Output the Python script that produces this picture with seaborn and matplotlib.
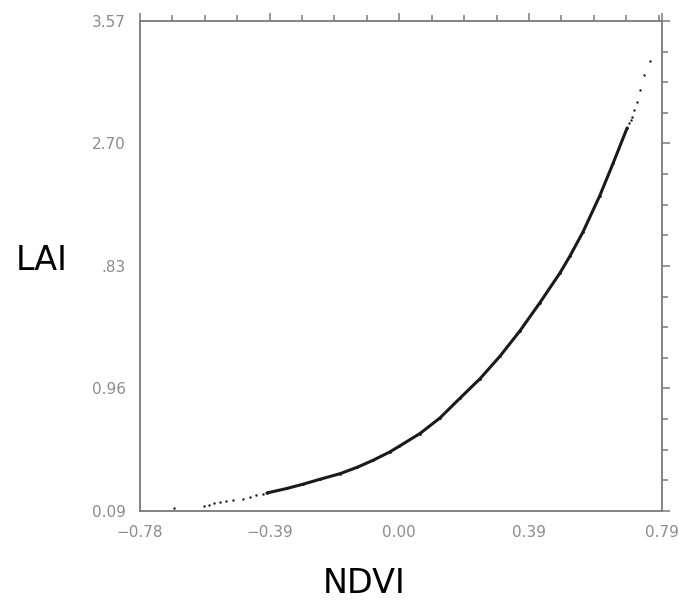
import numpy as np
import pandas as pd
import matplotlib
matplotlib.use("Agg")
import matplotlib.pyplot as plt
import seaborn as sns
from matplotlib.ticker import AutoMinorLocator

# Values
# sparse dots at the low end of the curve
ndvi_low = [-0.678, -0.588, -0.572, -0.556, -0.539, -0.52, -0.500, -0.470, -0.449, -0.43, -0.41]
lai_low = [0.111, 0.126, 0.135, 0.146, 0.154, 0.160, 0.168, 0.178, 0.189, 0.200, 0.212]

# dense band of points (main body of the curve)
ndvi_mid = [-0.398, -0.338, -0.290, -0.239, -0.178, -0.127, -0.079, -0.028, 0.0, 0.062,
            0.122, 0.182, 0.243, 0.303, 0.363, 0.423, 0.483, 0.513, 0.552, 0.603, 0.643, 0.685]
lai_mid = [0.218, 0.250, 0.280, 0.315, 0.355, 0.400, 0.450, 0.510, 0.550, 0.640,
           0.750, 0.890, 1.030, 1.190, 1.370, 1.570, 1.780, 1.900, 2.070, 2.330, 2.560, 2.810]

# sparse dots at the high end
ndvi_high = [0.690, 0.696, 0.700, 0.707, 0.715, 0.724, 0.736, 0.754]
lai_high = [2.845, 2.870, 2.888, 2.94, 2.995, 3.080, 3.187, 3.286]

x_ticks = [-0.78, -0.39, 0.00, 0.39, 0.79]
x_labels = ["\u22120.78", "\u22120.39", "0.00", "0.39", "0.79"]
y_ticks = [0.09, 0.96, 1.83, 2.70, 3.57]
y_labels = ["0.09", "0.96", ".83", "2.70", "3.57"]

mid = pd.DataFrame({"NDVI": ndvi_mid, "LAI": lai_mid})
dots = pd.DataFrame({"NDVI": ndvi_low + ndvi_high, "LAI": lai_low + lai_high})

sns.set_style("white")
plt.rcParams["font.family"] = ["DejaVu Sans"]

fig = plt.figure(figsize=(6.79, 6.03), dpi=100)
ax = fig.add_axes([0.206, 0.1526, 0.769, 0.8126])

# dense part drawn as a thick band, ends as loose dots
sns.lineplot(data=mid, x="NDVI", y="LAI", color="#1a1a1a", linewidth=2.2, ax=ax)
sns.scatterplot(data=mid, x="NDVI", y="LAI", color="#1a1a1a", s=4, linewidth=0, ax=ax)
sns.scatterplot(data=dots, x="NDVI", y="LAI", color="#1a1a1a", s=3, linewidth=0, ax=ax)

ax.set_xlim(-0.78, 0.79)
ax.set_ylim(0.09, 3.57)
ax.set_xticks(x_ticks)
ax.set_xticklabels(x_labels)
ax.set_yticks(y_ticks)
ax.set_yticklabels(y_labels)
ax.xaxis.set_minor_locator(AutoMinorLocator(4))
ax.yaxis.set_minor_locator(AutoMinorLocator(4))

spine_col = "#7a7a7a"
for s in ax.spines.values():
    s.set_color(spine_col)
    s.set_linewidth(1.3)
    s.set_visible(True)

ax.tick_params(which="both", direction="out", top=True, right=True,
               color=spine_col, width=1.1, labelcolor="#8c8c8c", labelsize=11)
ax.tick_params(which="major", length=6, pad=4)
ax.tick_params(which="minor", length=4)
ax.tick_params(labeltop=False, labelright=False)

ax.set_xlabel("NDVI", fontsize=24, color="black", va="center")
ax.xaxis.set_label_coords(0.429, -0.147)
ax.set_ylabel("LAI", fontsize=24, color="black", rotation=0, ha="center", va="center")
ax.yaxis.set_label_coords(-0.188, 0.512)
ax.grid(False)

fig.savefig("out.png", dpi=100, facecolor="white")
